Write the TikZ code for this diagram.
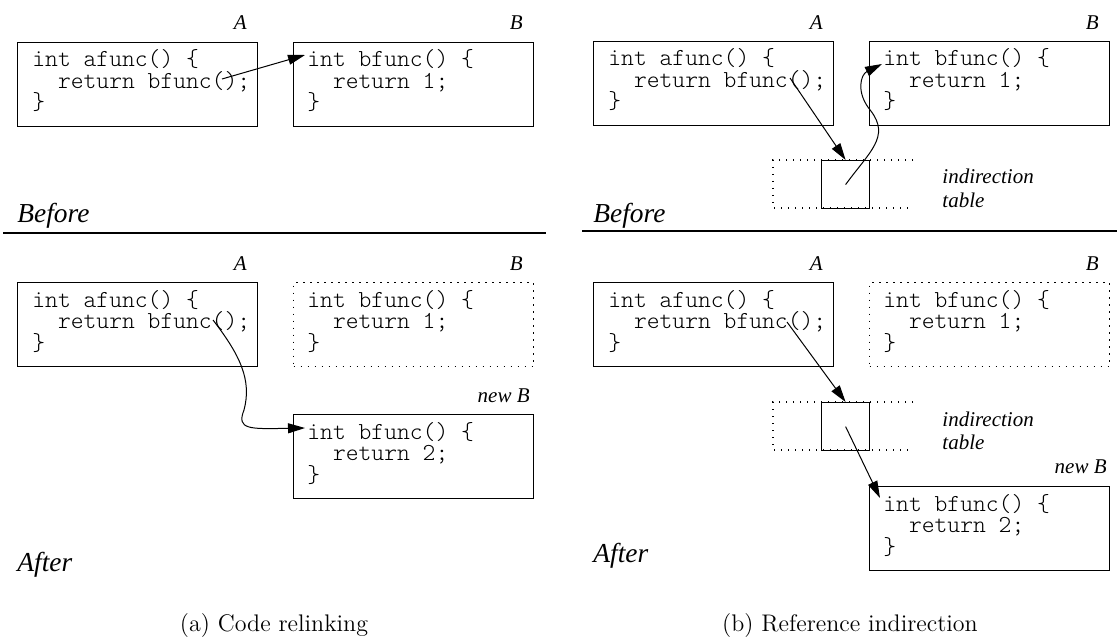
\documentclass[tikz,border=0pt]{standalone}
\usepackage{fontspec}
\newfontfamily\labelfont{Liberation Serif}
\usetikzlibrary{arrows.meta,calc}
\tikzset{
  codebox/.style={draw, line width=0.6pt, minimum width=120pt, minimum height=42pt,
    anchor=north west, inner sep=0pt},
  gonebox/.style={codebox, dash pattern=on 0.6pt off 2.9pt},
  code/.style={font=\ttfamily\fontseries{l}\fontsize{12.2}{10.75}\selectfont, align=left,
    anchor=base west, inner sep=0pt},
  tag/.style={font=\labelfont\itshape\fontsize{10.5}{11.5}\selectfont, inner sep=0pt},
  phase/.style={font=\labelfont\itshape\fontsize{13.7}{16}\selectfont, inner sep=0pt,
    anchor=base west},
  caption/.style={font=\fontsize{12}{14}\selectfont, inner sep=0pt, anchor=base},
  slot/.style={draw, line width=0.6pt, minimum width=24pt, minimum height=24pt,
    inner sep=0pt, anchor=north west},
  tablerim/.style={line width=0.6pt, dash pattern=on 0.6pt off 2.9pt},
  link/.style={line width=0.5pt, -{Triangle[length=8.5pt,width=5pt]}},
  rule/.style={line width=0.6pt},
}
\newcommand{\ind}{\hphantom{xx}}
% the base anchor of a code block sits on the baseline of its last line
\begin{document}
\begin{tikzpicture}[x=0.5pt, y=-0.5pt]
\useasboundingbox (0,0) rectangle (1117,636);

% ---------------- (a) code relinking ----------------
% before
\node[tag, anchor=base east] (la1) at (247,30) {A};
\node[tag, anchor=base east] (lb1) at (523,30) {B};
\node[codebox] (a1) at (17,42) {};
\node[codebox] (b1) at (293,42) {};
\node[code] (a1c) at ($(a1.north west)+(15,68)$) {int afunc() \{\\\ind return bfunc();\\\}};
\node[code] (b1c) at ($(b1.north west)+(14,68)$) {int bfunc() \{\\\ind return 1;\\\}};
\coordinate (a1call) at ($(a1.north west)+(205,37)$);
\coordinate (b1entry) at ($(b1.north west)+(12,13)$);
\draw[link] (a1call) -- (b1entry);
\node[phase] (bef1) at (17,222) {Before};
\coordinate (r1s) at (3,233);
\coordinate (r1e) at (546,233);
\draw[rule] (r1s) -- (r1e);

% after
\node[tag, anchor=base east] (la2) at (247,270) {A};
\node[tag, anchor=base east] (lb2) at (523,270) {B};
\node[codebox] (a2) at (17,282) {};
\node[gonebox] (b2) at (293,282) {};
\node[code] (a2c) at ($(a2.north west)+(15,68)$) {int afunc() \{\\\ind return bfunc();\\\}};
\node[code] (b2c) at ($(b2.north west)+(14,68)$) {int bfunc() \{\\\ind return 1;\\\}};
\node[tag, anchor=base east] (lnb2) at (530,402) {new B};
\node[codebox] (nb2) at (293,414) {};
\node[code] (nb2c) at ($(nb2.north west)+(14,68)$) {int bfunc() \{\\\ind return 2;\\\}};
\coordinate (a2call) at ($(a2.north west)+(196,38)$);
\coordinate (nb2entry) at ($(nb2.north west)+(12,14)$);
\draw[link] (a2call) .. controls ($(a2call)+(27,35)$) and ($(a2call)+(39,60)$) .. ($(a2call)+(31,90)$)
  .. controls ($(a2call)+(23,110)$) and ($(a2call)+(37,109)$) .. (nb2entry);
\node[phase] (aft1) at (17,571) {After};

\node[caption] (capa) at (274,631) {(a) Code relinking};

% ---------------- (b) reference indirection ----------------
% before
\node[tag, anchor=base east] (la3) at (823,30) {A};
\node[tag, anchor=base east] (lb3) at (1099,30) {B};
\node[codebox] (a3) at (593,41) {};
\node[codebox] (b3) at (869,41) {};
\node[code] (a3c) at ($(a3.north west)+(15,68)$) {int afunc() \{\\\ind return bfunc();\\\}};
\node[code] (b3c) at ($(b3.north west)+(14,68)$) {int bfunc() \{\\\ind return 1;\\\}};
\node[slot] (s3) at (821,160) {};
\coordinate (t3a) at (913,160);
\coordinate (t3b) at (773,160);
\coordinate (t3c) at (773,208);
\coordinate (t3d) at (913,208);
\draw[tablerim] (t3a) -- (t3b) -- (t3c) -- (t3d);
\node[tag, anchor=base west] (it3) at (942,184) {indirection};
\node[tag, anchor=base west] (tt3) at (942,207) {table};
\coordinate (a3call) at ($(a3.north west)+(197,37)$);
\draw[link] (a3call) -- (s3.north);
\coordinate (b3entry) at ($(b3.north west)+(13,23)$);
\draw[link] (s3.center) .. controls ($(s3.center)+(24,-33)$) and ($(s3.center)+(45,-48)$) .. ($(s3.center)+(25,-74)$)
  .. controls ($(s3.center)+(10,-92)$) and ($(s3.center)+(15,-110)$) .. (b3entry);
\node[phase] (bef3) at (593,222) {Before};
\coordinate (r3s) at (582,231);
\coordinate (r3e) at (1117,231);
\draw[rule] (r3s) -- (r3e);

% after
\node[tag, anchor=base east] (la4) at (823,270) {A};
\node[tag, anchor=base east] (lb4) at (1099,270) {B};
\node[codebox] (a4) at (593,282) {};
\node[gonebox] (b4) at (869,282) {};
\node[code] (a4c) at ($(a4.north west)+(15,68)$) {int afunc() \{\\\ind return bfunc();\\\}};
\node[code] (b4c) at ($(b4.north west)+(14,68)$) {int bfunc() \{\\\ind return 1;\\\}};
\node[slot] (s4) at (821,402) {};
\coordinate (t4a) at (913,402);
\coordinate (t4b) at (773,402);
\coordinate (t4c) at (773,450);
\coordinate (t4d) at (913,450);
\draw[tablerim] (t4a) -- (t4b) -- (t4c) -- (t4d);
\node[tag, anchor=base west] (it4) at (942,426) {indirection};
\node[tag, anchor=base west] (tt4) at (942,449) {table};
\node[tag, anchor=base east] (lnb4) at (1107,473) {new B};
\node[codebox] (nb4) at (869,486) {};
\node[code] (nb4c) at ($(nb4.north west)+(14,68)$) {int bfunc() \{\\\ind return 2;\\\}};
\coordinate (a4call) at ($(a4.north west)+(194,40)$);
\draw[link] (a4call) -- (s4.north);
\coordinate (nb4entry) at ($(nb4.north west)+(11,12)$);
\draw[link] (s4.center) -- (nb4entry);
\node[phase] (aft4) at (593,562) {After};

\node[caption] (capb) at (850,631) {(b) Reference indirection};
\end{tikzpicture}
\end{document}
